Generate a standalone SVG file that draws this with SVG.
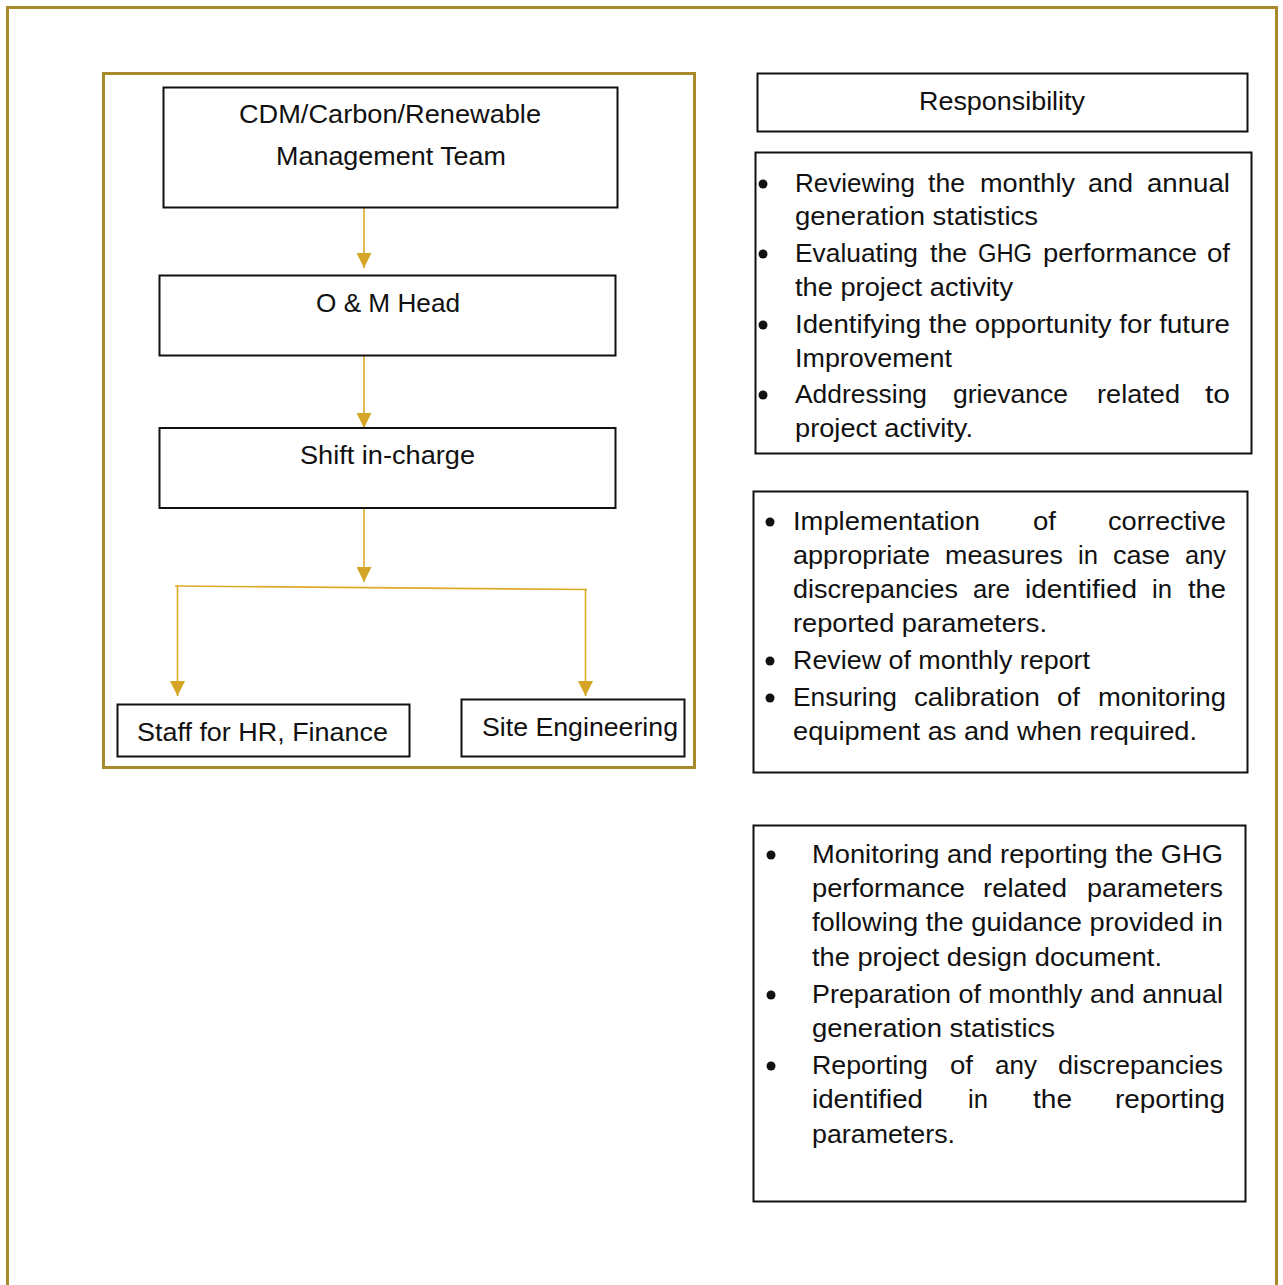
<svg xmlns="http://www.w3.org/2000/svg" width="1283" height="1285" viewBox="0 0 1283 1285">
<style>
  text { font-family: "Liberation Sans", Arial, sans-serif; font-size: 26px; fill: #111; }
  .box { fill: #fff; stroke: #111; stroke-width: 2; }
  .frame { fill: none; stroke: #a88a2a; stroke-width: 3; }
  .conn { fill: none; stroke: #dcaa24; stroke-width: 1.6; }
  .bullet { fill: #111; }
</style>
<defs>
  <marker id="ah" viewBox="0 0 10 10" refX="10" refY="5" markerWidth="15" markerHeight="15" markerUnits="userSpaceOnUse" orient="auto">
    <path d="M0,0 L10,5 L0,10 z" fill="#d4a526"/>
  </marker>
</defs>
<rect width="1283" height="1285" fill="#fff"/>
<path class="frame" d="M7.5,1290 V7.5 H1276.5 V1290"/>
<rect class="frame" x="103.5" y="73.5" width="591" height="694"/>

<g id="connectors">
  <line class="conn" x1="364" y1="208" x2="364" y2="268" marker-end="url(#ah)"/>
  <line class="conn" x1="364" y1="356" x2="364" y2="428" marker-end="url(#ah)"/>
  <line class="conn" x1="364" y1="509" x2="364" y2="582" marker-end="url(#ah)"/>
  <line class="conn" x1="175" y1="586" x2="587" y2="589.5"/>
  <line class="conn" x1="177.5" y1="586" x2="177.5" y2="696" marker-end="url(#ah)"/>
  <line class="conn" x1="585.5" y1="589.5" x2="585.5" y2="696" marker-end="url(#ah)"/>
</g>

<g id="node-cdm">
  <rect class="box" x="163.5" y="87.5" width="454" height="120"/>
  <text x="239" y="123" textLength="302" lengthAdjust="spacingAndGlyphs">CDM/Carbon/Renewable</text>
  <text x="276" y="165" textLength="230" lengthAdjust="spacingAndGlyphs">Management Team</text>
</g>
<g id="node-om">
  <rect class="box" x="159.5" y="275.5" width="456" height="80"/>
  <text x="316" y="312" textLength="144" lengthAdjust="spacingAndGlyphs">O &amp; M Head</text>
</g>
<g id="node-shift">
  <rect class="box" x="159.5" y="428" width="456" height="80"/>
  <text x="300" y="464" textLength="175" lengthAdjust="spacingAndGlyphs">Shift in-charge</text>
</g>
<g id="node-staff">
  <rect class="box" x="117.5" y="704.5" width="292" height="52"/>
  <text x="137" y="741" textLength="251" lengthAdjust="spacingAndGlyphs">Staff for HR, Finance</text>
</g>
<g id="node-site">
  <rect class="box" x="461.5" y="699.5" width="223" height="57"/>
  <text x="482" y="736" textLength="196" lengthAdjust="spacingAndGlyphs">Site Engineering</text>
</g>

<g id="node-responsibility">
  <rect class="box" x="757.5" y="73.5" width="490" height="58"/>
  <text x="919" y="110" textLength="166" lengthAdjust="spacingAndGlyphs">Responsibility</text>
</g>

<g id="node-resp-cdm">
  <rect class="box" x="755.5" y="152.5" width="496" height="301"/>
  <circle class="bullet" cx="763" cy="184" r="4.5"/>
  <circle class="bullet" cx="763" cy="254" r="4.5"/>
  <circle class="bullet" cx="763" cy="325" r="4.5"/>
  <circle class="bullet" cx="763" cy="395" r="4.5"/>
  <text x="795" y="192" textLength="120" lengthAdjust="spacingAndGlyphs">Reviewing</text>
  <text x="928" y="192" textLength="37" lengthAdjust="spacingAndGlyphs">the</text>
  <text x="980" y="192" textLength="95" lengthAdjust="spacingAndGlyphs">monthly</text>
  <text x="1088" y="192" textLength="45" lengthAdjust="spacingAndGlyphs">and</text>
  <text x="1147" y="192" textLength="83" lengthAdjust="spacingAndGlyphs">annual</text>
  <text x="795" y="225" textLength="243" lengthAdjust="spacingAndGlyphs">generation statistics</text>
  <text x="795" y="262" textLength="123" lengthAdjust="spacingAndGlyphs">Evaluating</text>
  <text x="930" y="262" textLength="37" lengthAdjust="spacingAndGlyphs">the</text>
  <text x="978" y="262" textLength="54" lengthAdjust="spacingAndGlyphs">GHG</text>
  <text x="1043" y="262" textLength="154" lengthAdjust="spacingAndGlyphs">performance</text>
  <text x="1207" y="262" textLength="23" lengthAdjust="spacingAndGlyphs">of</text>
  <text x="795" y="296" textLength="218" lengthAdjust="spacingAndGlyphs">the project activity</text>
  <text x="795" y="333" textLength="435" lengthAdjust="spacingAndGlyphs">Identifying the opportunity for future</text>
  <text x="795" y="367" textLength="157" lengthAdjust="spacingAndGlyphs">Improvement</text>
  <text x="795" y="403" textLength="132" lengthAdjust="spacingAndGlyphs">Addressing</text>
  <text x="953" y="403" textLength="115" lengthAdjust="spacingAndGlyphs">grievance</text>
  <text x="1097" y="403" textLength="83" lengthAdjust="spacingAndGlyphs">related</text>
  <text x="1205" y="403" textLength="25" lengthAdjust="spacingAndGlyphs">to</text>
  <text x="795" y="437" textLength="178" lengthAdjust="spacingAndGlyphs">project activity.</text>
</g>

<g id="node-resp-om">
  <rect class="box" x="753.5" y="491.5" width="494" height="281"/>
  <circle class="bullet" cx="770" cy="522" r="4.5"/>
  <circle class="bullet" cx="770" cy="661" r="4.5"/>
  <circle class="bullet" cx="770" cy="698" r="4.5"/>
  <text x="793" y="530" textLength="187" lengthAdjust="spacingAndGlyphs">Implementation</text>
  <text x="1033" y="530" textLength="23" lengthAdjust="spacingAndGlyphs">of</text>
  <text x="1108" y="530" textLength="118" lengthAdjust="spacingAndGlyphs">corrective</text>
  <text x="793" y="564" textLength="137" lengthAdjust="spacingAndGlyphs">appropriate</text>
  <text x="945" y="564" textLength="118" lengthAdjust="spacingAndGlyphs">measures</text>
  <text x="1078" y="564" textLength="20" lengthAdjust="spacingAndGlyphs">in</text>
  <text x="1113" y="564" textLength="57" lengthAdjust="spacingAndGlyphs">case</text>
  <text x="1185" y="564" textLength="41" lengthAdjust="spacingAndGlyphs">any</text>
  <text x="793" y="598" textLength="165" lengthAdjust="spacingAndGlyphs">discrepancies</text>
  <text x="973" y="598" textLength="37" lengthAdjust="spacingAndGlyphs">are</text>
  <text x="1025" y="598" textLength="112" lengthAdjust="spacingAndGlyphs">identified</text>
  <text x="1152" y="598" textLength="20" lengthAdjust="spacingAndGlyphs">in</text>
  <text x="1188" y="598" textLength="38" lengthAdjust="spacingAndGlyphs">the</text>
  <text x="793" y="632" textLength="254" lengthAdjust="spacingAndGlyphs">reported parameters.</text>
  <text x="793" y="669" textLength="297" lengthAdjust="spacingAndGlyphs">Review of monthly report</text>
  <text x="793" y="706" textLength="104" lengthAdjust="spacingAndGlyphs">Ensuring</text>
  <text x="914" y="706" textLength="126" lengthAdjust="spacingAndGlyphs">calibration</text>
  <text x="1057" y="706" textLength="23" lengthAdjust="spacingAndGlyphs">of</text>
  <text x="1098" y="706" textLength="128" lengthAdjust="spacingAndGlyphs">monitoring</text>
  <text x="793" y="740" textLength="404" lengthAdjust="spacingAndGlyphs">equipment as and when required.</text>
</g>

<g id="node-resp-shift">
  <rect class="box" x="753.5" y="825.5" width="492" height="376"/>
  <circle class="bullet" cx="771" cy="855" r="4.5"/>
  <circle class="bullet" cx="771" cy="995" r="4.5"/>
  <circle class="bullet" cx="771" cy="1066" r="4.5"/>
  <text x="812" y="863" textLength="411" lengthAdjust="spacingAndGlyphs">Monitoring and reporting the GHG</text>
  <text x="812" y="897" textLength="153" lengthAdjust="spacingAndGlyphs">performance</text>
  <text x="983" y="897" textLength="84" lengthAdjust="spacingAndGlyphs">related</text>
  <text x="1087" y="897" textLength="136" lengthAdjust="spacingAndGlyphs">parameters</text>
  <text x="812" y="931" textLength="411" lengthAdjust="spacingAndGlyphs">following the guidance provided in</text>
  <text x="812" y="966" textLength="350" lengthAdjust="spacingAndGlyphs">the project design document.</text>
  <text x="812" y="1003" textLength="411" lengthAdjust="spacingAndGlyphs">Preparation of monthly and annual</text>
  <text x="812" y="1037" textLength="243" lengthAdjust="spacingAndGlyphs">generation statistics</text>
  <text x="812" y="1074" textLength="116" lengthAdjust="spacingAndGlyphs">Reporting</text>
  <text x="950" y="1074" textLength="23" lengthAdjust="spacingAndGlyphs">of</text>
  <text x="995" y="1074" textLength="42" lengthAdjust="spacingAndGlyphs">any</text>
  <text x="1058" y="1074" textLength="165" lengthAdjust="spacingAndGlyphs">discrepancies</text>
  <text x="812" y="1108" textLength="111" lengthAdjust="spacingAndGlyphs">identified</text>
  <text x="968" y="1108" textLength="20" lengthAdjust="spacingAndGlyphs">in</text>
  <text x="1033" y="1108" textLength="39" lengthAdjust="spacingAndGlyphs">the</text>
  <text x="1115" y="1108" textLength="110" lengthAdjust="spacingAndGlyphs">reporting</text>
  <text x="812" y="1143" textLength="143" lengthAdjust="spacingAndGlyphs">parameters.</text>
</g>
</svg>
